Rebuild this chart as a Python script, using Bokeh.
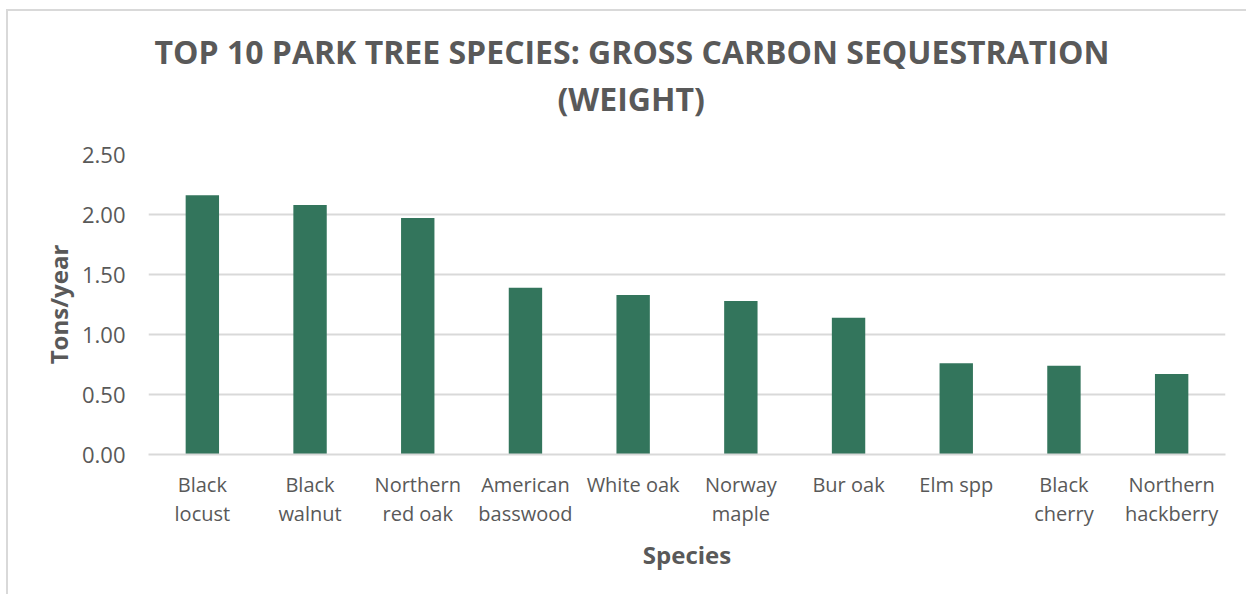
from bokeh.plotting import figure
from bokeh.models import Title, NumeralTickFormatter, FixedTicker, LinearAxis, Range1d
from bokeh.embed import file_html
from bokeh.resources import INLINE

species = ["Black locust", "Black walnut", "Northern red oak", "American basswood",
           "White oak", "Norway maple", "Bur oak", "Elm spp", "Black cherry",
           "Northern hackberry"]
label_line1 = ["Black", "Black", "Northern", "American", "White oak", "Norway",
               "Bur oak", "Elm spp", "Black", "Northern"]
label_line2 = ["locust", "walnut", "red oak", "basswood", " ", "maple",
               " ", " ", "cherry", "hackberry"]
tons_per_year = [2.16, 2.08, 1.97, 1.39, 1.33, 1.28, 1.14, 0.76, 0.74, 0.67]
y_ticks = [0.0, 0.5, 1.0, 1.5, 2.0, 2.5]

FONT = "Open Sans"
TXT = "#595959"
GRID = "#d9d9d9"

pos = list(range(len(species)))  # slot index of each category

p = figure(x_range=Range1d(-0.5, len(species) - 0.5), y_range=(0, 2.5),
           width=1240, height=585, output_backend="svg", toolbar_location=None,
           title=None, x_axis_type=None)

p.vbar(x=pos, top=tons_per_year, width=0.31, color="#33755c", line_color=None)

p.min_border_left = 140
p.min_border_right = 23
p.min_border_top = 143
p.min_border_bottom = 142
p.outline_line_color = None
p.background_fill_color = "white"
p.border_fill_color = "white"
p.styles = {"margin-left": "6px", "margin-top": "9px",
            "border-left": "2px solid #d9d9d9", "border-top": "2px solid #d9d9d9"}

spacer = Title(text=" ", text_font=FONT, text_font_size="10px", standoff=19,
               text_color="white")
t2 = Title(text="(WEIGHT)", align="left", text_font=FONT, text_font_size="32px",
           text_font_style="bold", text_color=TXT, offset=409, standoff=0)
t1 = Title(text="TOP 10 PARK TREE SPECIES: GROSS CARBON SEQUESTRATION", align="left",
           text_font=FONT, text_font_size="32px", text_font_style="bold",
           text_color=TXT, offset=6, standoff=4)
p.add_layout(spacer, "above")
p.add_layout(t2, "above")
p.add_layout(t1, "above")

p.yaxis.ticker = FixedTicker(ticks=y_ticks)
p.yaxis.formatter = NumeralTickFormatter(format="0.00")
p.yaxis.axis_line_color = None
p.yaxis.major_tick_line_color = None
p.yaxis.minor_tick_line_color = None
p.yaxis.major_label_text_font = FONT
p.yaxis.major_label_text_font_size = "22px"
p.yaxis.major_label_text_color = TXT
p.yaxis.major_label_standoff = 17
p.yaxis.axis_label = "Tons/year"
p.yaxis.axis_label_text_font = FONT
p.yaxis.axis_label_text_font_size = "24px"
p.yaxis.axis_label_text_font_style = "bold"
p.yaxis.axis_label_text_color = TXT
p.yaxis.axis_label_standoff = 4

# first line of the category labels
xa1 = LinearAxis(ticker=FixedTicker(ticks=pos))
xa1.major_label_overrides = dict(zip(pos, label_line1))
xa1.axis_line_color = GRID
xa1.axis_line_width = 2
xa1.major_tick_line_color = None
xa1.minor_tick_line_color = None
xa1.major_label_text_font = FONT
xa1.major_label_text_font_size = "20px"
xa1.major_label_text_color = TXT
xa1.major_label_standoff = 10
p.add_layout(xa1, "below")

# second line of the category labels + axis title
xa2 = LinearAxis(ticker=FixedTicker(ticks=pos))
xa2.major_label_overrides = dict(zip(pos, label_line2))
xa2.axis_line_color = None
xa2.major_tick_line_color = None
xa2.minor_tick_line_color = None
xa2.major_label_text_font = FONT
xa2.major_label_text_font_size = "20px"
xa2.major_label_text_color = TXT
xa2.major_label_standoff = -7
xa2.axis_label = "Species"
xa2.axis_label_text_font = FONT
xa2.axis_label_text_font_size = "24px"
xa2.axis_label_text_font_style = "bold"
xa2.axis_label_text_color = TXT
xa2.axis_label_standoff = 8
p.add_layout(xa2, "below")

p.xgrid.grid_line_color = None
p.ygrid.grid_line_color = GRID
p.ygrid.grid_line_width = 2

open("out.html", "w").write(file_html(p, INLINE))
